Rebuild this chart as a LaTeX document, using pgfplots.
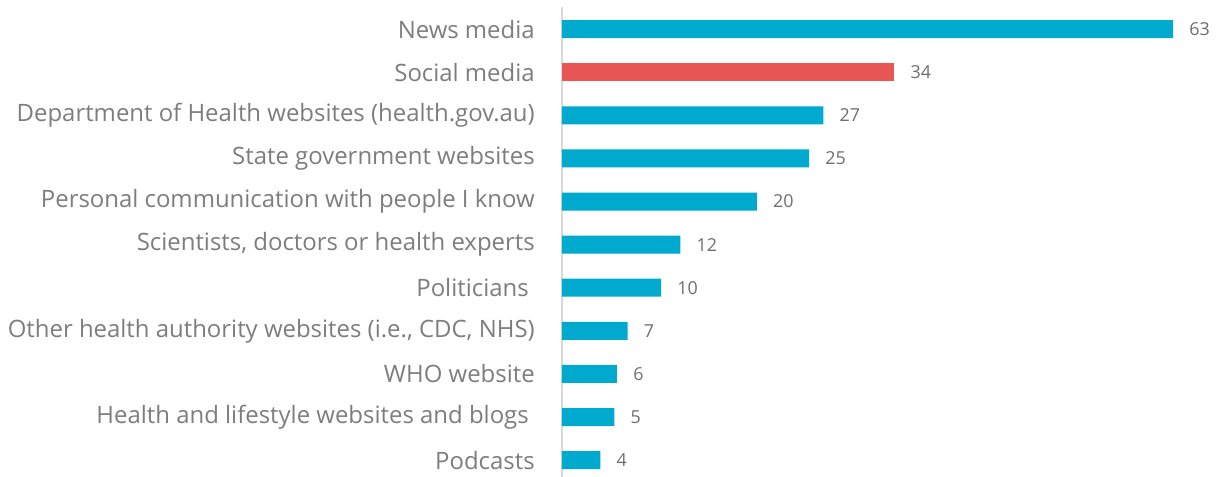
\documentclass[border=0pt]{standalone}
\usepackage{fontspec}
\setmainfont{Open Sans}
\usepackage{pgfplots}
\pgfplotsset{compat=1.18}
\definecolor{barblue}{RGB}{0,169,206}
\definecolor{barred}{RGB}{232,85,85}
\definecolor{labelgray}{RGB}{125,125,125}
\definecolor{valgray}{RGB}{110,110,110}
\definecolor{axisgray}{RGB}{217,217,217}
\begin{document}
\begin{tikzpicture}
\begin{axis}[
  scale only axis, width=492.75pt, height=352.125pt,
  xmin=0, xmax=67.73, ymin=-0.5, ymax=10.39, y dir=reverse,
  xbar, bar width=13.5pt, bar shift=0pt,
  axis x line=none, axis y line*=left,
  axis line style={-, draw=axisgray, line width=1.5pt},
  ytick={0,...,10},
  yticklabels={News media, Social media, Department of Health websites (health.gov.au), State government websites, Personal communication with people I know, {Scientists, doctors or health experts}, Politicians\rule{4.5pt}{0pt}, {Other health authority websites (i.e., CDC, NHS)}, WHO website, Health and lifestyle websites and blogs\rule{4.5pt}{0pt}, Podcasts},
  major tick length=0pt,
  yticklabel style={font=\fontsize{17.95pt}{20pt}\selectfont, text=labelgray, inner sep=0pt},
  yticklabel shift=20.25pt,
  point meta=explicit symbolic,
  nodes near coords,
  nodes near coords style={font=\fontsize{13.4pt}{15pt}\selectfont, text=valgray, inner sep=0pt, anchor=west, xshift=12pt},
  clip=false,
]
\addplot[fill=barblue, draw=none] coordinates {(63,0) [63] (26.94,2) [27] (25.47,3) [25] (20.08,4) [20] (12.2,5) [12] (10.21,6) [10] (6.77,7) [7] (5.67,8) [6] (5.39,9) [5] (3.95,10) [4]};
\addplot[fill=barred, draw=none] coordinates {(34.26,1) [34]};
\end{axis}
\pgfresetboundingbox
\path[use as bounding box] ([xshift=-421.5pt]current axis.south west) rectangle ([yshift=5.625pt]current axis.north east);
\end{tikzpicture}
\end{document}
